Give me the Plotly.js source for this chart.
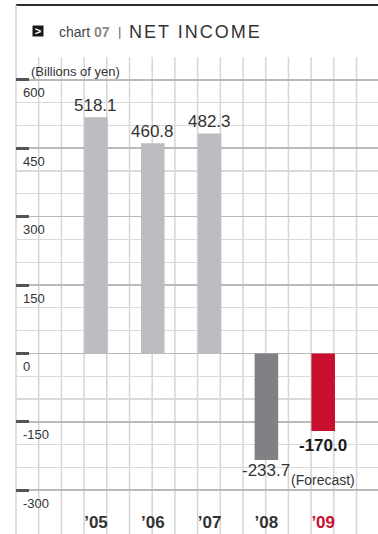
<!DOCTYPE html>
<html>
<head>
<meta charset="utf-8">
<script src="https://cdn.plot.ly/plotly-3.0.1.min.js"></script>
<style>
html,body{margin:0;padding:0;background:#fff;}
#chart{width:378px;height:534px;}
.annotation[data-index="3"] text{letter-spacing:2px;}
</style>
</head>
<body>
<div id="chart"></div>
<script>
// ---- data ----
const years = ["’05", "’06", "’07", "’08", "’09"];
const netIncome = [518.1, 460.8, 482.3, -233.7, -170.0];
const valueLabels = ["518.1", "460.8", "482.3", "-233.7", "-170.0"];
const yTickValues = [600, 450, 300, 150, 0, -150, -300];
const forecastYear = "’09";
const unitLabel = "(Billions of yen)";
const chartTitle = "NET INCOME";
const chartNo = "07";

// ---- style ----
const FONT = "Liberation Sans, Arial, Helvetica, sans-serif";
const RED = "#c8102e";
const barColors = years.map((y, i) => y === forecastYear ? RED : (netIncome[i] < 0 ? "#808184" : "#bcbdc0"));
const H = 534, PLOT_TOP = 57;
const domTop = (H - PLOT_TOP) / H;

const trace = {
  type: "bar",
  x: years,
  y: netIncome,
  width: 0.415,
  marker: {color: barColors, line: {width: 0}},
  hoverinfo: "skip"
};

// title annotations (x paper 0 -> plot left, y domain 1 -> plot top)
const annotations = [
  {xref: "paper", yref: "y domain", x: 0, y: 1, xshift: 21.7, yshift: 26.5, xanchor: "center", yanchor: "middle",
   text: "<b>&gt;</b>", showarrow: false, bgcolor: "#1a1a1a", width: 10, height: 10, borderpad: 0,
   font: {family: FONT, size: 11, color: "#fff"}},
  {xref: "paper", yref: "y domain", x: 0, y: 1, xshift: 41, yshift: 25.5, xanchor: "left", yanchor: "middle",
   text: "chart <b><span style='color:#8a8a8a'>" + chartNo + "</span></b>", showarrow: false,
   font: {family: FONT, size: 14, color: "#444"}},
  {xref: "paper", yref: "y domain", x: 0, y: 1, xshift: 99.5, yshift: 25.5, xanchor: "left", yanchor: "middle",
   text: "|", showarrow: false, font: {family: FONT, size: 13, color: "#666"}},
  {xref: "paper", yref: "y domain", x: 0, y: 1, xshift: 111, yshift: 25, xanchor: "left", yanchor: "middle", align: "left",
   text: chartTitle, showarrow: false, font: {family: FONT, size: 18, color: "#333"}},
  {xref: "paper", yref: "y domain", x: 0, y: 1, xshift: 13, yshift: -14, xanchor: "left", yanchor: "middle",
   text: unitLabel, showarrow: false, font: {family: FONT, size: 13, color: "#333"}}
];

// y tick labels below each major line
yTickValues.forEach(v => {
  annotations.push({xref: "paper", yref: "y", x: 0, y: v, xshift: 5, yshift: -13, xanchor: "left", yanchor: "middle",
    text: String(v), showarrow: false, font: {family: FONT, size: 13, color: "#333"}});
});

// value labels
years.forEach((yr, i) => {
  const v = netIncome[i];
  const isF = yr === forecastYear;
  let shift = v >= 0 ? 12 : (isF ? -15 : -11);
  annotations.push({xref: "x", yref: "y", x: yr, y: v, yshift: shift, xanchor: "center", yanchor: "middle",
    text: isF ? "<b>" + valueLabels[i] + "</b>" : valueLabels[i], showarrow: false,
    font: {family: FONT, size: 17, color: isF ? "#1a1a1a" : "#333"}});
  if (isF) {
    annotations.push({xref: "x", yref: "y", x: yr, y: v, yshift: -49, xanchor: "center", yanchor: "middle",
      text: "(Forecast)", showarrow: false, font: {family: FONT, size: 14, color: "#333"}});
  }
});

// vertical grid lines and frame (decoration)
const shapes = [];
const plotW = 362, cell = 22.7;
for (let k = 0; k * cell <= plotW + 1; k++) {
  const xp = k * cell / plotW;
  shapes.push({type: "line", xref: "paper", yref: "paper", x0: xp, x1: xp, y0: 0, y1: domTop,
    line: {color: "#d6d6d6", width: 1.5}, layer: "below"});
}
const ruleY = (H - 5) / H;
shapes.push({type: "line", xref: "paper", yref: "paper", x0: 0, x1: 1, y0: ruleY, y1: ruleY,
  line: {color: "#2b2b2b", width: 2}});
shapes.push({type: "line", xref: "paper", yref: "paper", x0: 0, x1: 0, y0: domTop, y1: ruleY,
  line: {color: "#cfcfcf", width: 1.5}});

const tickTextX = years.map(y => y === forecastYear ? "<span style='color:" + RED + "'><b>" + y + "</b></span>" : "<b>" + y + "</b>");

const layout = {
  width: 378, height: H,
  margin: {l: 16, r: 0, t: 0, b: 0, pad: 0},
  paper_bgcolor: "#fff", plot_bgcolor: "#fff",
  showlegend: false,
  font: {family: FONT, color: "#333"},
  xaxis: {
    type: "category", range: [-1.408, 4.965], fixedrange: true,
    showgrid: false, zeroline: false, showline: false, ticks: "",
    tickvals: years, ticktext: tickTextX,
    ticklabelposition: "inside", ticklabelstandoff: 0,
    tickfont: {family: FONT, size: 17, color: "#333"}
  },
  yaxis: {
    domain: [0, domTop],
    range: [-396, 650], fixedrange: true,
    tickmode: "linear", tick0: 0, dtick: 150,
    showticklabels: false, ticks: "inside", ticklen: 13, tickwidth: 3, tickcolor: "#555",
    showgrid: true, gridcolor: "#b9b9b9", gridwidth: 1.5,
    zeroline: false, showline: false,
    minor: {dtick: 50, showgrid: true, gridcolor: "#dadada", gridwidth: 1.3, ticks: ""}
  },
  annotations: annotations,
  shapes: shapes
};

Plotly.newPlot("chart", [trace], layout, {staticPlot: true, displayModeBar: false});
</script>
</body>
</html>
